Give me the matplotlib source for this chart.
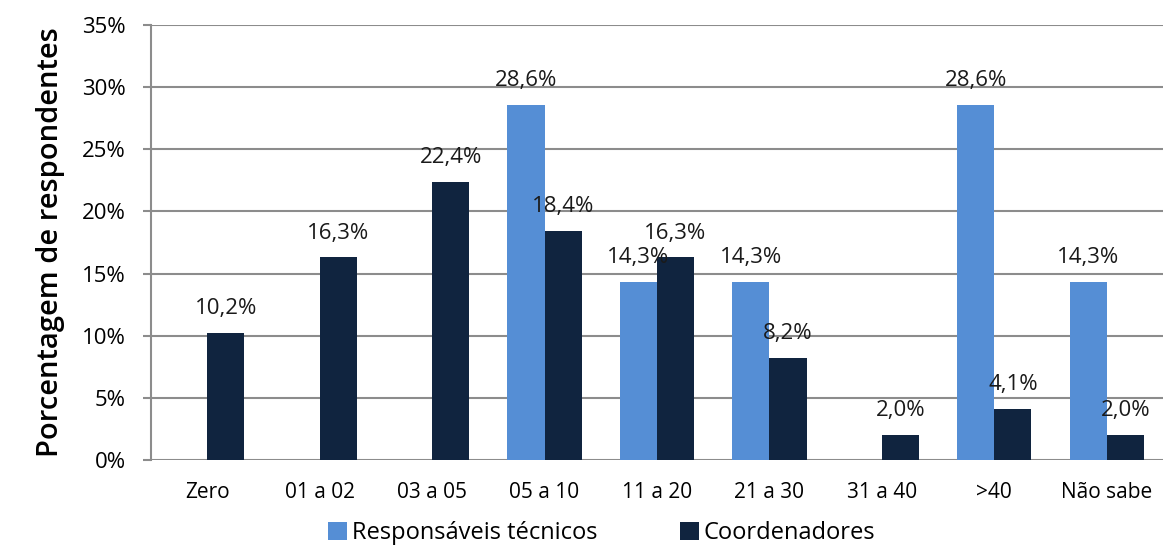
import numpy as np
import matplotlib.pyplot as plt

categories = ["Zero", "01 a 02", "03 a 05", "05 a 10", "11 a 20",
              "21 a 30", "31 a 40", ">40", "Não sabe"]
resp_tecnicos = [0, 0, 0, 28.6, 14.3, 14.3, 0, 28.6, 14.3]
coordenadores = [10.2, 16.3, 22.4, 18.4, 16.3, 8.2, 2.0, 4.1, 2.0]
y_ticks = [0, 5, 10, 15, 20, 25, 30, 35]

BLUE = "#558ED5"
DARK = "#10243F"
GRID = "#8C8C8C"

plt.rcParams['font.family'] = ['Open Sans', 'DejaVu Sans']

fig = plt.figure(figsize=(11.68, 5.5), dpi=100)
ax = fig.add_axes([151 / 1168, 90 / 550, 1012 / 1168, 435 / 550])

x = np.arange(len(categories))
w = 0.33
b1 = ax.bar(x - w / 2, resp_tecnicos, w, color=BLUE, label="Responsáveis técnicos", zorder=3)
b2 = ax.bar(x + w / 2, coordenadores, w, color=DARK, label="Coordenadores", zorder=3)


def fmt(v):
    return ("%.1f%%" % v).replace(".", ",")


for bars, vals in ((b1, resp_tecnicos), (b2, coordenadores)):
    for rect, v in zip(bars, vals):
        if v == 0:
            continue
        ax.annotate(fmt(v), (rect.get_x() + rect.get_width() / 2, v),
                    xytext=(0, 10), textcoords="offset points",
                    ha="center", va="bottom", fontsize=16, color="#1a1a1a", zorder=4)

ax.set_xlim(-0.5, len(categories) - 0.5)
ax.set_ylim(0, 35)
ax.set_yticks(y_ticks)
ax.set_yticklabels(["%d%%" % t for t in y_ticks])
ax.set_xticks(x)
ax.set_xticklabels(categories)
ax.tick_params(axis="x", length=0, labelsize=15, pad=16)
ax.tick_params(axis="y", length=6, width=1.5, color=GRID, labelsize=16, pad=12)
ax.yaxis.grid(True, color=GRID, linewidth=1.5, zorder=0)
ax.set_axisbelow(True)
for side in ("top", "right", "bottom"):
    ax.spines[side].set_visible(False)
ax.spines["left"].set_color(GRID)
ax.spines["left"].set_linewidth(1.5)

ax.set_ylabel("Porcentagem de respondentes", fontsize=21, fontweight="semibold", labelpad=12)

fig.legend(loc="lower center", bbox_to_anchor=(0.515, -0.03), ncol=2, frameon=False,
           fontsize=17, handlelength=0.8, handleheight=0.8, handletextpad=0.2,
           columnspacing=3.5)

fig.savefig("out.png", dpi=100)
